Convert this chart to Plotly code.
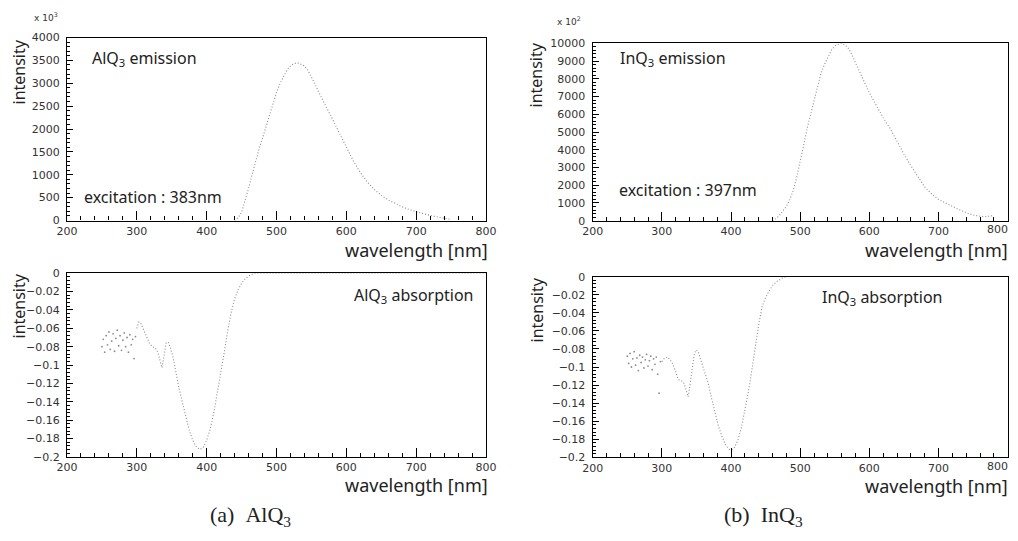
import plotly.graph_objects as go

# The page body adds an 8px margin, so the figure is 16px smaller than the window
OFF = 8
W, H = 1018 - 2 * OFF, 541 - 2 * OFF

# ---------------- data ----------------
# AlQ3 emission (intensity in units of 10^3)
alq_em_wl = [440, 445, 450, 455, 460, 465, 470, 475, 480, 485, 490, 495, 500, 505, 510, 515,
             520, 525, 530, 535, 540, 545, 550, 555, 560, 565, 570, 575, 580, 585, 590, 595,
             600, 610, 620, 630, 640, 650, 660, 670, 680, 690, 700, 710, 720, 730, 740, 750]
alq_em_int = [0, 60, 180, 420, 700, 1000, 1300, 1560, 1800, 2060, 2300, 2560, 2800, 2990, 3150, 3290,
              3380, 3430, 3450, 3420, 3380, 3280, 3150, 2990, 2820, 2680, 2520, 2370, 2220, 2070, 1920, 1770,
              1620, 1300, 1050, 840, 680, 550, 450, 370, 300, 240, 190, 150, 110, 80, 50, 20]

# InQ3 emission (intensity in units of 10^2)
inq_em_wl = [460, 465, 470, 475, 480, 485, 490, 495, 500, 505, 510, 515, 520, 525, 530, 535,
             540, 545, 550, 555, 560, 565, 570, 575, 580, 590, 600, 610, 620, 630, 640, 650,
             660, 670, 680, 690, 700, 710, 720, 730, 740, 750, 760, 770, 780]
inq_em_int = [0, 120, 300, 520, 800, 1200, 1700, 2450, 3300, 4250, 5200, 5950, 6700, 7500, 8300, 8800,
              9250, 9600, 9850, 9950, 10000, 9900, 9700, 9350, 8900, 8000, 7200, 6500, 5800, 5200, 4450, 3750,
              3100, 2500, 1900, 1500, 1200, 1000, 800, 620, 450, 320, 250, 230, 300]

# AlQ3 absorption: noisy short-wavelength part and smooth part
alq_abs_noise_wl = [250, 252, 254, 256, 258, 260, 262, 264, 266, 268, 270, 272, 274, 276, 278, 280,
                    282, 284, 286, 288, 290, 292, 294, 296, 298]
alq_abs_noise = [-0.080, -0.072, -0.086, -0.068, -0.078, -0.064, -0.083, -0.074, -0.066, -0.085, -0.071,
                 -0.062, -0.079, -0.068, -0.084, -0.073, -0.065, -0.080, -0.070, -0.086, -0.067, -0.078,
                 -0.072, -0.093, -0.069]
alq_abs_wl = [300, 303, 306, 310, 314, 318, 322, 326, 330, 333, 336, 339, 342, 345, 348, 352, 356, 360,
              365, 370, 375, 380, 385, 390, 395, 400, 405, 410, 415, 420, 425, 430, 435, 440, 445, 450,
              455, 460, 465, 470, 500, 550, 600, 650, 700, 750, 800]
alq_abs = [-0.060, -0.053, -0.055, -0.062, -0.069, -0.076, -0.080, -0.081, -0.086, -0.096, -0.103, -0.090,
           -0.076, -0.075, -0.081, -0.092, -0.110, -0.124, -0.140, -0.156, -0.171, -0.182, -0.189, -0.192,
           -0.190, -0.182, -0.170, -0.153, -0.132, -0.109, -0.087, -0.063, -0.043, -0.028, -0.018, -0.011,
           -0.006, -0.003, -0.001, 0.0, 0.0, 0.0, 0.0, 0.0, 0.0, 0.0, 0.0]

# InQ3 absorption
inq_abs_noise_wl = [250, 252, 254, 256, 258, 260, 262, 264, 266, 268, 270, 272, 274, 276, 278, 280,
                    282, 284, 286, 288, 290, 292, 294, 296, 298]
inq_abs_noise = [-0.088, -0.096, -0.085, -0.100, -0.091, -0.083, -0.098, -0.090, -0.104, -0.087, -0.095,
                 -0.089, -0.101, -0.092, -0.086, -0.099, -0.093, -0.088, -0.103, -0.091, -0.097, -0.089,
                 -0.108, -0.129, -0.094]
inq_abs_wl = [300, 304, 308, 312, 316, 320, 324, 328, 332, 336, 338, 341, 344, 347, 350, 353, 357, 362,
              367, 372, 377, 382, 387, 392, 397, 401, 405, 410, 415, 420, 425, 430, 435, 440, 445, 450,
              455, 460, 465, 470, 475, 480]
inq_abs = [-0.094, -0.090, -0.089, -0.092, -0.097, -0.106, -0.114, -0.115, -0.118, -0.128, -0.133, -0.118,
           -0.100, -0.085, -0.081, -0.084, -0.094, -0.106, -0.118, -0.135, -0.152, -0.166, -0.177, -0.186,
           -0.191, -0.192, -0.189, -0.181, -0.167, -0.149, -0.128, -0.104, -0.078, -0.053, -0.033, -0.023,
           -0.016, -0.010, -0.006, -0.003, -0.001, 0.0]

x_ticks = [200, 300, 400, 500, 600, 700, 800]
em_alq_ticks = [0, 500, 1000, 1500, 2000, 2500, 3000, 3500, 4000]
em_inq_ticks = [0, 1000, 2000, 3000, 4000, 5000, 6000, 7000, 8000, 9000, 10000]
abs_ticks = [0, -0.02, -0.04, -0.06, -0.08, -0.1, -0.12, -0.14, -0.16, -0.18, -0.2]
abs_tick_text = ["0", "\u22120.02", "\u22120.04", "\u22120.06", "\u22120.08", "\u22120.1",
                 "\u22120.12", "\u22120.14", "\u22120.16", "\u22120.18", "\u22120.2"]

# ---------------- layout helpers (positions given in window pixels) ----------------
def px(x):
    return (x - OFF) / W

def py(y):
    return 1 - (y - OFF) / H

DOT = "#8c8c8c"
TXT = "#222222"
SANS = "Noto Sans"
TICKFONT = dict(family="DejaVu Sans", size=11, color="#333333")

fig = go.Figure()

def line_trace(x, y, xa, ya):
    fig.add_trace(go.Scatter(x=x, y=y, mode="lines", xaxis=xa, yaxis=ya,
                             line=dict(color=DOT, width=1.1, dash="1px,2px"),
                             hoverinfo="skip", showlegend=False))

def dot_trace(x, y, xa, ya):
    fig.add_trace(go.Scatter(x=x, y=y, mode="markers", xaxis=xa, yaxis=ya,
                             marker=dict(color=DOT, size=1.8),
                             hoverinfo="skip", showlegend=False))

line_trace(alq_em_wl, alq_em_int, "x", "y")
dot_trace(alq_abs_noise_wl, alq_abs_noise, "x2", "y2")
line_trace(alq_abs_wl, alq_abs, "x2", "y2")
line_trace(inq_em_wl, inq_em_int, "x3", "y3")
dot_trace(inq_abs_noise_wl, inq_abs_noise, "x4", "y4")
line_trace(inq_abs_wl, inq_abs, "x4", "y4")

def xaxis(domain, anchor, labels=x_ticks):
    return dict(domain=domain, anchor=anchor, range=[200, 800], tickvals=labels,
                ticktext=[str(v) for v in labels],
                ticks="inside", ticklen=9, tickwidth=1, tickcolor="black",
                minor=dict(dtick=20, tick0=200, ticks="inside", ticklen=4, tickcolor="black", tickwidth=1),
                showline=True, linecolor="black", linewidth=1.3, mirror=True, automargin=False,
                showgrid=False, zeroline=False, tickfont=TICKFONT, fixedrange=True)

def yaxis(domain, anchor, rng, tickvals, minor_dtick, ticktext):
    return dict(domain=domain, anchor=anchor, range=rng, tickvals=tickvals, ticktext=ticktext,
                ticks="inside", ticklen=6, tickwidth=1, tickcolor="black",
                minor=dict(dtick=minor_dtick, tick0=0, ticks="inside", ticklen=3, tickcolor="black", tickwidth=1),
                showline=True, linecolor="black", linewidth=1.3, mirror=True, automargin=False,
                showgrid=False, zeroline=False, tickfont=TICKFONT, ticklabelstandoff=4, fixedrange=True)

xl = [px(67), px(486)]
xr = [px(592.7), px(1007.7)]

fig.update_layout(
    width=W, height=H, margin=dict(l=0, r=0, t=0, b=0, autoexpand=False),
    paper_bgcolor="white", plot_bgcolor="white",
    xaxis=xaxis(xl, "y"),
    yaxis=yaxis([py(220.5), py(37.5)], "x", [0, 4000], em_alq_ticks, 100,
                [str(v) for v in em_alq_ticks]),
    xaxis2=xaxis(xl, "y2"),
    yaxis2=yaxis([py(456.7), py(273.3)], "x2", [-0.2, 0], abs_ticks, 0.004, abs_tick_text),
    xaxis3=xaxis(xr, "y3", x_ticks[:-1]),
    yaxis3=yaxis([py(220.7), py(43.3)], "x3", [0, 10000], em_inq_ticks, 200,
                 [str(v) for v in em_inq_ticks]),
    xaxis4=xaxis(xr, "y4", x_ticks[:-1]),
    yaxis4=yaxis([py(457.3), py(276.7)], "x4", [-0.2, 0], abs_ticks, 0.004, abs_tick_text),
)
# major tick marks at 800 on the right panels (label drawn separately so it is not hidden)
fig.update_layout(xaxis3_minor_tickvals=None)

def note(text, x, y, size=16, xanchor="left", yanchor="middle", angle=0, family=SANS, color=TXT):
    fig.add_annotation(text=text, x=px(x), y=py(y), xref="paper", yref="paper",
                       xanchor=xanchor, yanchor=yanchor, showarrow=False, textangle=angle,
                       font=dict(family=family, size=size, color=color))

# last x tick label of the right-hand panels, kept inside the page
for yy in (230, 466):
    fig.add_annotation(text=str(x_ticks[-1]), x=px(1010), y=py(yy), xref="paper", yref="paper",
                       xanchor="right", yanchor="middle", showarrow=False,
                       font=TICKFONT)

# panel texts
note("AlQ<sub>3</sub> emission", 90, 58)
note("excitation : 383nm", 82, 197)
note("AlQ<sub>3</sub> absorption", 352, 295)
note("InQ<sub>3</sub> emission", 618, 58)
note("excitation : 397nm", 617, 190)
note("InQ<sub>3</sub> absorption", 820, 297)

# axis titles
note("wavelength [nm]", 490, 250, size=18, xanchor="right")
note("wavelength [nm]", 490, 485, size=18, xanchor="right")
note("wavelength [nm]", 1010, 250, size=18, xanchor="right")
note("wavelength [nm]", 1010, 486, size=18, xanchor="right")
note("intensity", 18, 38, angle=-90, xanchor="center", yanchor="top")
note("intensity", 18, 272, angle=-90, xanchor="center", yanchor="top")
note("intensity", 536, 41, angle=-90, xanchor="center", yanchor="top")
note("intensity", 536, 276, angle=-90, xanchor="center", yanchor="top")

# exponent labels
note("x 10<sup>3</sup>", 32, 17, size=9, family="DejaVu Sans", color="#333333")
note("x 10<sup>2</sup>", 555, 21, size=9, family="DejaVu Sans", color="#333333")

# captions
note("(a)&nbsp;&nbsp;AlQ<sub>3</sub>", 250, 516, size=22, xanchor="center", family="Liberation Serif")
note("(b)&nbsp;&nbsp;InQ<sub>3</sub>", 763, 516, size=22, xanchor="center", family="Liberation Serif")

fig.write_html("out.html")
